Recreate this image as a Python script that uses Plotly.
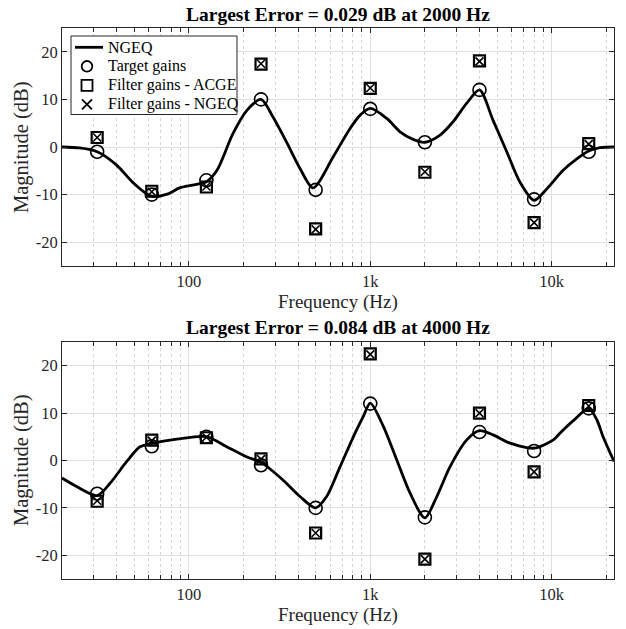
import plotly.graph_objects as go
from plotly.subplots import make_subplots

# ---- data ----
band_freqs = [31.25, 62.5, 125, 250, 500, 1000, 2000, 4000, 8000, 16000]

top_target = [-1, -10, -7, 10, -9, 8, 1, 12, -11, -1]
top_acge = [2.0, -9.3, -8.4, 17.4, -17.2, 12.3, -5.3, 18.1, -15.9, 0.7]
top_ngeq = [2.0, -9.4, -8.3, 17.5, -17.3, 12.4, -5.2, 18.0, -15.9, 0.6]

top_curve_f = [20, 25, 31.25, 40, 49, 59, 63.5, 76, 89, 105, 125, 143, 175, 209, 250,
               291, 348, 410, 484, 624, 774, 880, 1000, 1233, 1460, 1722, 2000, 2426,
               2860, 3403, 4000, 4753, 5654, 6693, 8000, 9400, 11560, 13750, 16000,
               18500, 22050]
top_curve_db = [0.0, -0.2, -1.0, -3.8, -7.4, -9.9, -10.4, -9.9, -8.6, -8.0, -7.3, -4.9,
                2.8, 7.7, 10.0, 6.3, 0.8, -4.5, -8.6, -2.1, 3.9, 6.7, 8.1, 6.0, 3.2, 1.6,
                1.0, 2.5, 5.3, 9.2, 12.0, 5.6, -1.0, -7.4, -11.2, -8.8, -4.9, -2.5, -0.85,
                -0.15, 0.0]

bot_target = [-7, 3, 5, -1, -10, 12, -12, 6, 2, 11]
bot_acge = [-8.6, 4.3, 4.8, 0.35, -15.3, 22.5, -20.8, 10.0, -2.4, 11.6]
bot_ngeq = [-8.5, 4.2, 4.9, 0.3, -15.3, 22.4, -20.8, 10.0, -2.4, 11.5]

bot_curve_f = [20, 24.1, 31.25, 36.8, 45.5, 53.8, 62.5, 85.8, 125, 161.7, 208, 250, 330,
               410, 500, 575, 682, 808, 916, 1000, 1181, 1400, 1658, 2000, 2327, 2754,
               3403, 4000, 4753, 5900, 8000, 10210, 11130, 13150, 16000, 17730, 19200,
               22050]
bot_curve_db = [-3.7, -5.5, -7.4, -4.8, -0.2, 2.9, 3.6, 4.5, 5.05, 2.9, 0.8, -0.4, -4.1,
                -7.6, -10.0, -7.6, -1.3, 5.05, 9.3, 12.1, 7.2, 0.1, -6.9, -12.1, -7.6,
                -1.3, 4.35, 6.3, 5.4, 3.65, 2.6, 4.35, 5.8, 8.4, 11.0, 8.6, 5.0, -0.2]

titles = ["Largest Error = 0.029 dB at 2000 Hz", "Largest Error = 0.084 dB at 4000 Hz"]
legend_labels = ["NGEQ", "Target gains", "Filter gains - ACGE", "Filter gains - NGEQ"]

x_tickvals = [100, 1000, 10000]
x_ticktext = ["100", "1k", "10k"]
x_minor = [20, 30, 40, 50, 60, 70, 80, 90, 200, 300, 400, 500, 600, 700, 800, 900,
           2000, 3000, 4000, 5000, 6000, 7000, 8000, 9000, 20000]
y_tickvals = [-20, -10, 0, 10, 20]
y_ticktext = ["-20", "-10", "0", "10", "20"]

FONT = "Liberation Serif"
AX = "#262626"

W, H = 626, 629
ML, MR, MT, MB = 62, 12, 28, 50
PW = W - ML - MR
PH = H - MT - MB


def py(pix):
    return (H - MB - pix) / PH


def px(pix):
    return (pix - ML) / PW


fig = make_subplots(rows=2, cols=1, vertical_spacing=0.0)

datasets = [
    (top_curve_f, top_curve_db, top_target, top_acge, top_ngeq),
    (bot_curve_f, bot_curve_db, bot_target, bot_acge, bot_ngeq),
]
for i, (cf, cdb, tg, ac, ng) in enumerate(datasets):
    row = i + 1
    fig.add_trace(go.Scatter(x=cf, y=cdb, mode="lines", name=legend_labels[0],
                             line=dict(color="black", width=2.8, shape="spline", smoothing=0.8),
                             showlegend=False), row=row, col=1)
    fig.add_trace(go.Scatter(x=band_freqs, y=tg, mode="markers", name=legend_labels[1],
                             marker=dict(symbol="circle-open", size=13, color="black",
                                         line=dict(width=1.6, color="black")),
                             showlegend=False), row=row, col=1)
    fig.add_trace(go.Scatter(x=band_freqs, y=ac, mode="markers", name=legend_labels[2],
                             marker=dict(symbol="square-open", size=11, color="black",
                                         line=dict(width=2.2, color="black")),
                             showlegend=False), row=row, col=1)
    fig.add_trace(go.Scatter(x=band_freqs, y=ng, mode="markers", name=legend_labels[3],
                             marker=dict(symbol="x-thin-open", size=8, color="black",
                                         line=dict(width=1.6, color="black")),
                             showlegend=False), row=row, col=1)

axis_common_x = dict(
    type="log", range=[1.30103, 4.34341],
    tickvals=x_tickvals, ticktext=x_ticktext,
    ticks="inside", ticklen=5, tickcolor=AX, tickwidth=1,
    showline=True, linecolor=AX, linewidth=1, mirror="ticks",
    showgrid=True, gridcolor="#e0e0e0", gridwidth=1,
    tickfont=dict(family=FONT, size=16.5, color=AX),
    minor=dict(tickvals=x_minor, ticks="inside", ticklen=4, tickcolor=AX,
               showgrid=True, gridcolor="#d6d6d6", griddash="dot", gridwidth=1),
    zeroline=False,
)
axis_common_y = dict(
    range=[-25, 25], tickvals=y_tickvals, ticktext=y_ticktext,
    ticks="inside", ticklen=5, tickcolor=AX, tickwidth=1,
    showline=True, linecolor=AX, linewidth=1, mirror="ticks",
    showgrid=True, gridcolor="#e0e0e0", gridwidth=1,
    tickfont=dict(family=FONT, size=16.5, color=AX),
    zeroline=False,
)

fig.update_layout(
    width=W, height=H,
    margin=dict(l=ML, r=MR, t=MT, b=MB),
    paper_bgcolor="white", plot_bgcolor="white",
    font=dict(family=FONT, size=16, color=AX),
    xaxis=dict(axis_common_x, domain=[0, 1], anchor="y"),
    xaxis2=dict(axis_common_x, domain=[0, 1], anchor="y2"),
    yaxis=dict(axis_common_y, domain=[py(266), py(28)], anchor="x"),
    yaxis2=dict(axis_common_y, domain=[py(579), py(342)], anchor="x2"),
    showlegend=False,
)

annotations = []
shapes = []
for t, ypix in zip(titles, [14, 327]):
    annotations.append(dict(text="<b>" + t + "</b>", x=0.5, y=py(ypix), xref="paper", yref="paper",
                            showarrow=False, xanchor="center", yanchor="middle",
                            font=dict(family=FONT, size=19.5, color="black")))
for ypix in [302, 615]:
    annotations.append(dict(text="Frequency (Hz)", x=0.5, y=py(ypix), xref="paper", yref="paper",
                            showarrow=False, xanchor="center", yanchor="middle",
                            font=dict(family=FONT, size=19, color=AX)))
for ypix in [147, 460]:
    annotations.append(dict(text="Magnitude (dB)", x=px(21), y=py(ypix),
                            xref="paper", yref="paper", textangle=-90,
                            showarrow=False, xanchor="center", yanchor="middle",
                            font=dict(family=FONT, size=20.5, color=AX)))

# ---- legend (box, symbols and labels) ----
rows_y = [47.3, 66.3, 85.3, 104.3]
sym_x = 88
shapes.append(dict(type="rect", xref="paper", yref="paper", layer="above",
                   x0=px(71), x1=px(237), y0=py(114.5), y1=py(36),
                   fillcolor="white", line=dict(color=AX, width=1)))
shapes.append(dict(type="line", xref="paper", yref="paper", layer="above",
                   x0=px(75), x1=px(103), y0=py(rows_y[0]), y1=py(rows_y[0]),
                   line=dict(color="black", width=2.8)))
shapes.append(dict(type="circle", xref="paper", yref="paper", layer="above",
                   xsizemode="pixel", ysizemode="pixel",
                   xanchor=px(sym_x - 1), yanchor=py(rows_y[1]),
                   x0=-5.3, x1=5.3, y0=-5.3, y1=5.3,
                   line=dict(color="black", width=1.8)))
shapes.append(dict(type="rect", xref="paper", yref="paper", layer="above",
                   xsizemode="pixel", ysizemode="pixel",
                   xanchor=px(sym_x - 1), yanchor=py(rows_y[2]),
                   x0=-5.5, x1=5.5, y0=-5.5, y1=5.5,
                   line=dict(color="black", width=1.8)))
shapes.append(dict(type="path", xref="paper", yref="paper", layer="above",
                   xsizemode="pixel", ysizemode="pixel",
                   xanchor=px(sym_x - 1), yanchor=py(rows_y[3]),
                   path="M-5,-5L5,5M-5,5L5,-5",
                   line=dict(color="black", width=1.8)))
for lab, ry in zip(legend_labels, rows_y):
    annotations.append(dict(text=lab, x=px(106), y=py(ry), xref="paper", yref="paper",
                            showarrow=False, xanchor="left", yanchor="middle",
                            font=dict(family=FONT, size=16, color="black")))

fig.update_layout(annotations=annotations, shapes=shapes)

fig.write_html("out.html")
